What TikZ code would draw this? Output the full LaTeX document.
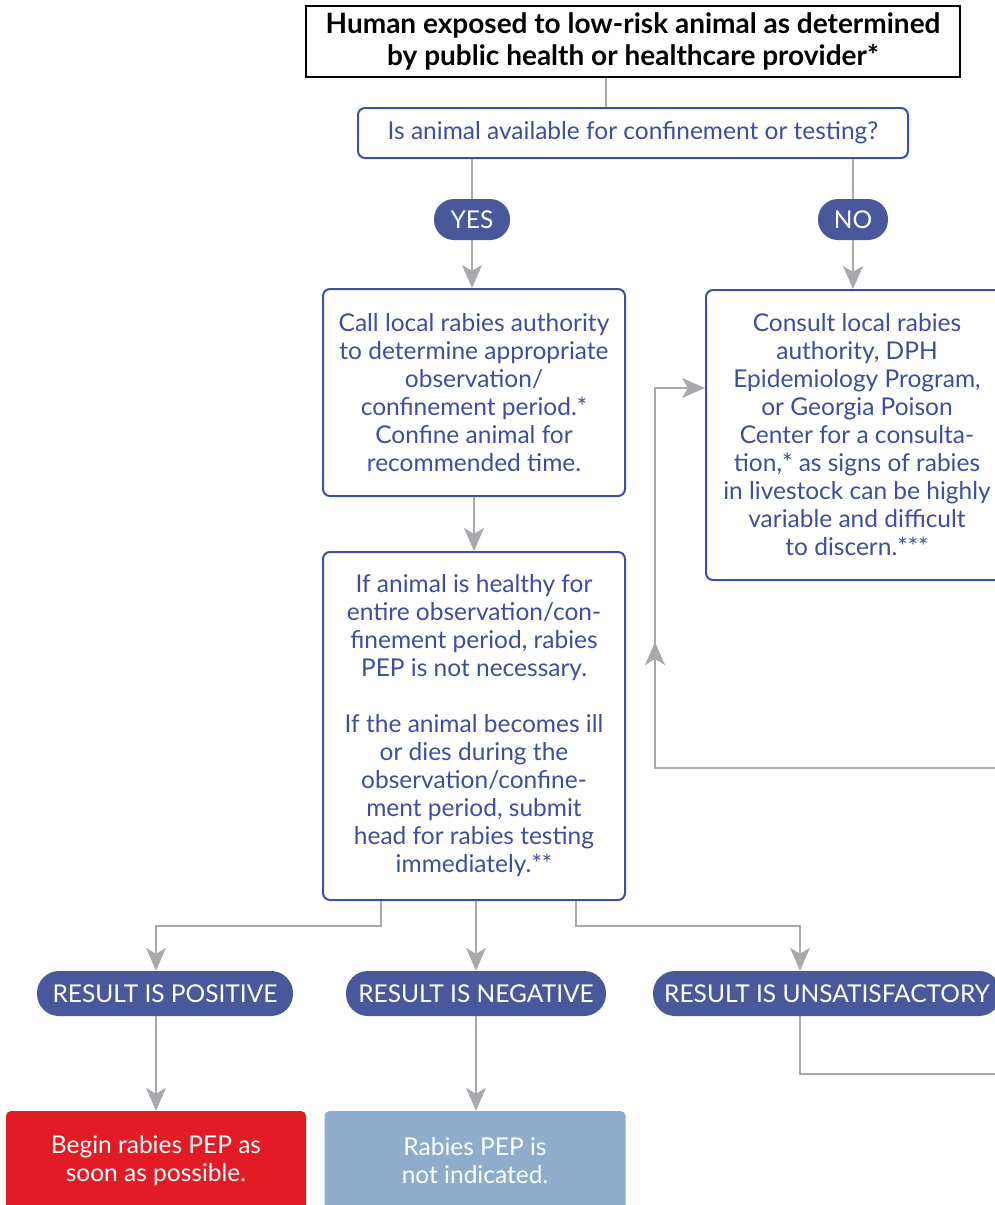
\documentclass[tikz,border=0pt]{standalone}
\usepackage{fontspec}
\setmainfont{Lato}
\usetikzlibrary{arrows.meta}
\definecolor{dblue}{HTML}{3F50A0}
\definecolor{tblue}{HTML}{3D4E9C}
\definecolor{pillc}{HTML}{48589B}
\definecolor{lgray}{HTML}{A7A9AC}
\definecolor{pred}{HTML}{E31B25}
\definecolor{lblue}{HTML}{8EADCC}
\begin{document}
\begin{tikzpicture}[x=1pt,y=-1pt,
  txt/.style={font=\fontsize{24.5}{28}\selectfont},
  qbox/.style={draw=dblue, line width=2pt, rounded corners=7pt, text=tblue, align=center, inner sep=0pt, txt},
  pillbox/.style={fill=pillc, text=white, inner sep=0pt, minimum height=45pt, txt},
  conn/.style={draw=lgray, line width=1.8pt},
  arr/.style={conn, -{Stealth[length=23pt,width=20pt,inset=6pt]}},
]
\useasboundingbox (0,0) rectangle (995,1205);
\clip (0,0) rectangle (995,1205);

\node[draw=black, line width=2.2pt, minimum width=654pt, minimum height=71pt, inner sep=0pt, align=center,
  font=\fontsize{28}{32}\selectfont\bfseries] (top) at (633,41.5)
  {Human exposed to low-risk animal as determined\\by public health or healthcare provider*};

\node[qbox, minimum width=550pt, minimum height=50pt] (q) at (633,133)
  {Is animal available for confinement or testing?};

\node[pillbox, rounded corners=20pt, minimum width=76pt, minimum height=41pt] (yes) at (472,219.5) {YES};
\node[pillbox, rounded corners=20pt, minimum width=70pt, minimum height=41pt] (no) at (853,219.5) {NO};

\node[qbox, minimum width=302pt, minimum height=207pt] (a) at (474,392.5)
  {Call local rabies authority\\to determine appropriate\\observation/\\confinement period.*\\Confine animal for\\recommended time.};

\node[qbox, minimum width=302pt, minimum height=290pt] (b) at (857,435)
  {Consult local rabies\\authority, DPH\\Epidemiology Program,\\or Georgia Poison\\Center for a consulta-\\tion,* as signs of rabies\\in livestock can be highly\\variable and difficult\\to discern.***};

\node[qbox, minimum width=302pt, minimum height=348pt] (c) at (474,726)
  {If animal is healthy for\\entire observation/con-\\finement period, rabies\\PEP is not necessary.\\[28pt]If the animal becomes ill\\or dies during the\\observation/confine-\\ment period, submit\\head for rabies testing\\immediately.**};

\node[pillbox, rounded corners=22pt, minimum width=256pt] (pos) at (165,993.5) {RESULT IS POSITIVE};
\node[pillbox, rounded corners=22pt, minimum width=260pt] (neg) at (476,993.5) {RESULT IS NEGATIVE};
\node[pillbox, rounded corners=22pt, minimum width=348pt] (uns) at (827,993.5) {RESULT IS UNSATISFACTORY};

\node[fill=pred, rounded corners=5pt, minimum width=300pt, minimum height=100pt, text=white, align=center, inner sep=0pt, txt] (red) at (156,1161)
  {Begin rabies PEP as\\soon as possible.};
\node[fill=lblue, rounded corners=5pt, minimum width=301pt, minimum height=100pt, text=white, align=center, inner sep=0pt, txt] (pl) at (475,1161)
  {Rabies PEP is\\not indicated.};

% connectors
\draw[conn] ([xshift=-27pt]top.south) -- ([xshift=-27pt]top.south |- q.north);
\draw[conn] (q.south -| yes.north) -- (yes.north);
\draw[conn] (q.south -| no.north) -- (no.north);
\draw[arr] (yes.south) -- (yes.south |- a.north);
\draw[arr] (no.south) -- (no.south |- b.north);
\draw[arr] (a.south) -- (c.north);

\coordinate (fbR) at (1000,768);
\coordinate (fbL) at (655,768);
\coordinate (fbM) at (655,642);
\coordinate (fbT) at (655,388);
\draw[conn] (fbR) -- (fbL) -- (fbM);
\draw[arr] (fbL) -- (fbM);
\draw[arr] (fbM) -- (fbT) -- (fbT -| b.west);

\coordinate (brL) at (381,926);
\coordinate (brR) at (576,926);
\draw[arr] (c.south -| brL) -- (brL) -| (pos.north -| 156,0);
\draw[arr] (c.south -| neg.north) -- (neg.north);
\draw[arr] (c.south -| brR) -- (brR) -| ([xshift=-27pt]uns.north);

\draw[arr] (pos.south -| 156,0) -- (red.north -| 156,0);
\draw[arr] (neg.south) -- (neg.south |- pl.north);
\coordinate (uR) at (1000,1074);
\draw[conn] ([xshift=-27pt]uns.south) |- (uR);
\end{tikzpicture}
\end{document}
